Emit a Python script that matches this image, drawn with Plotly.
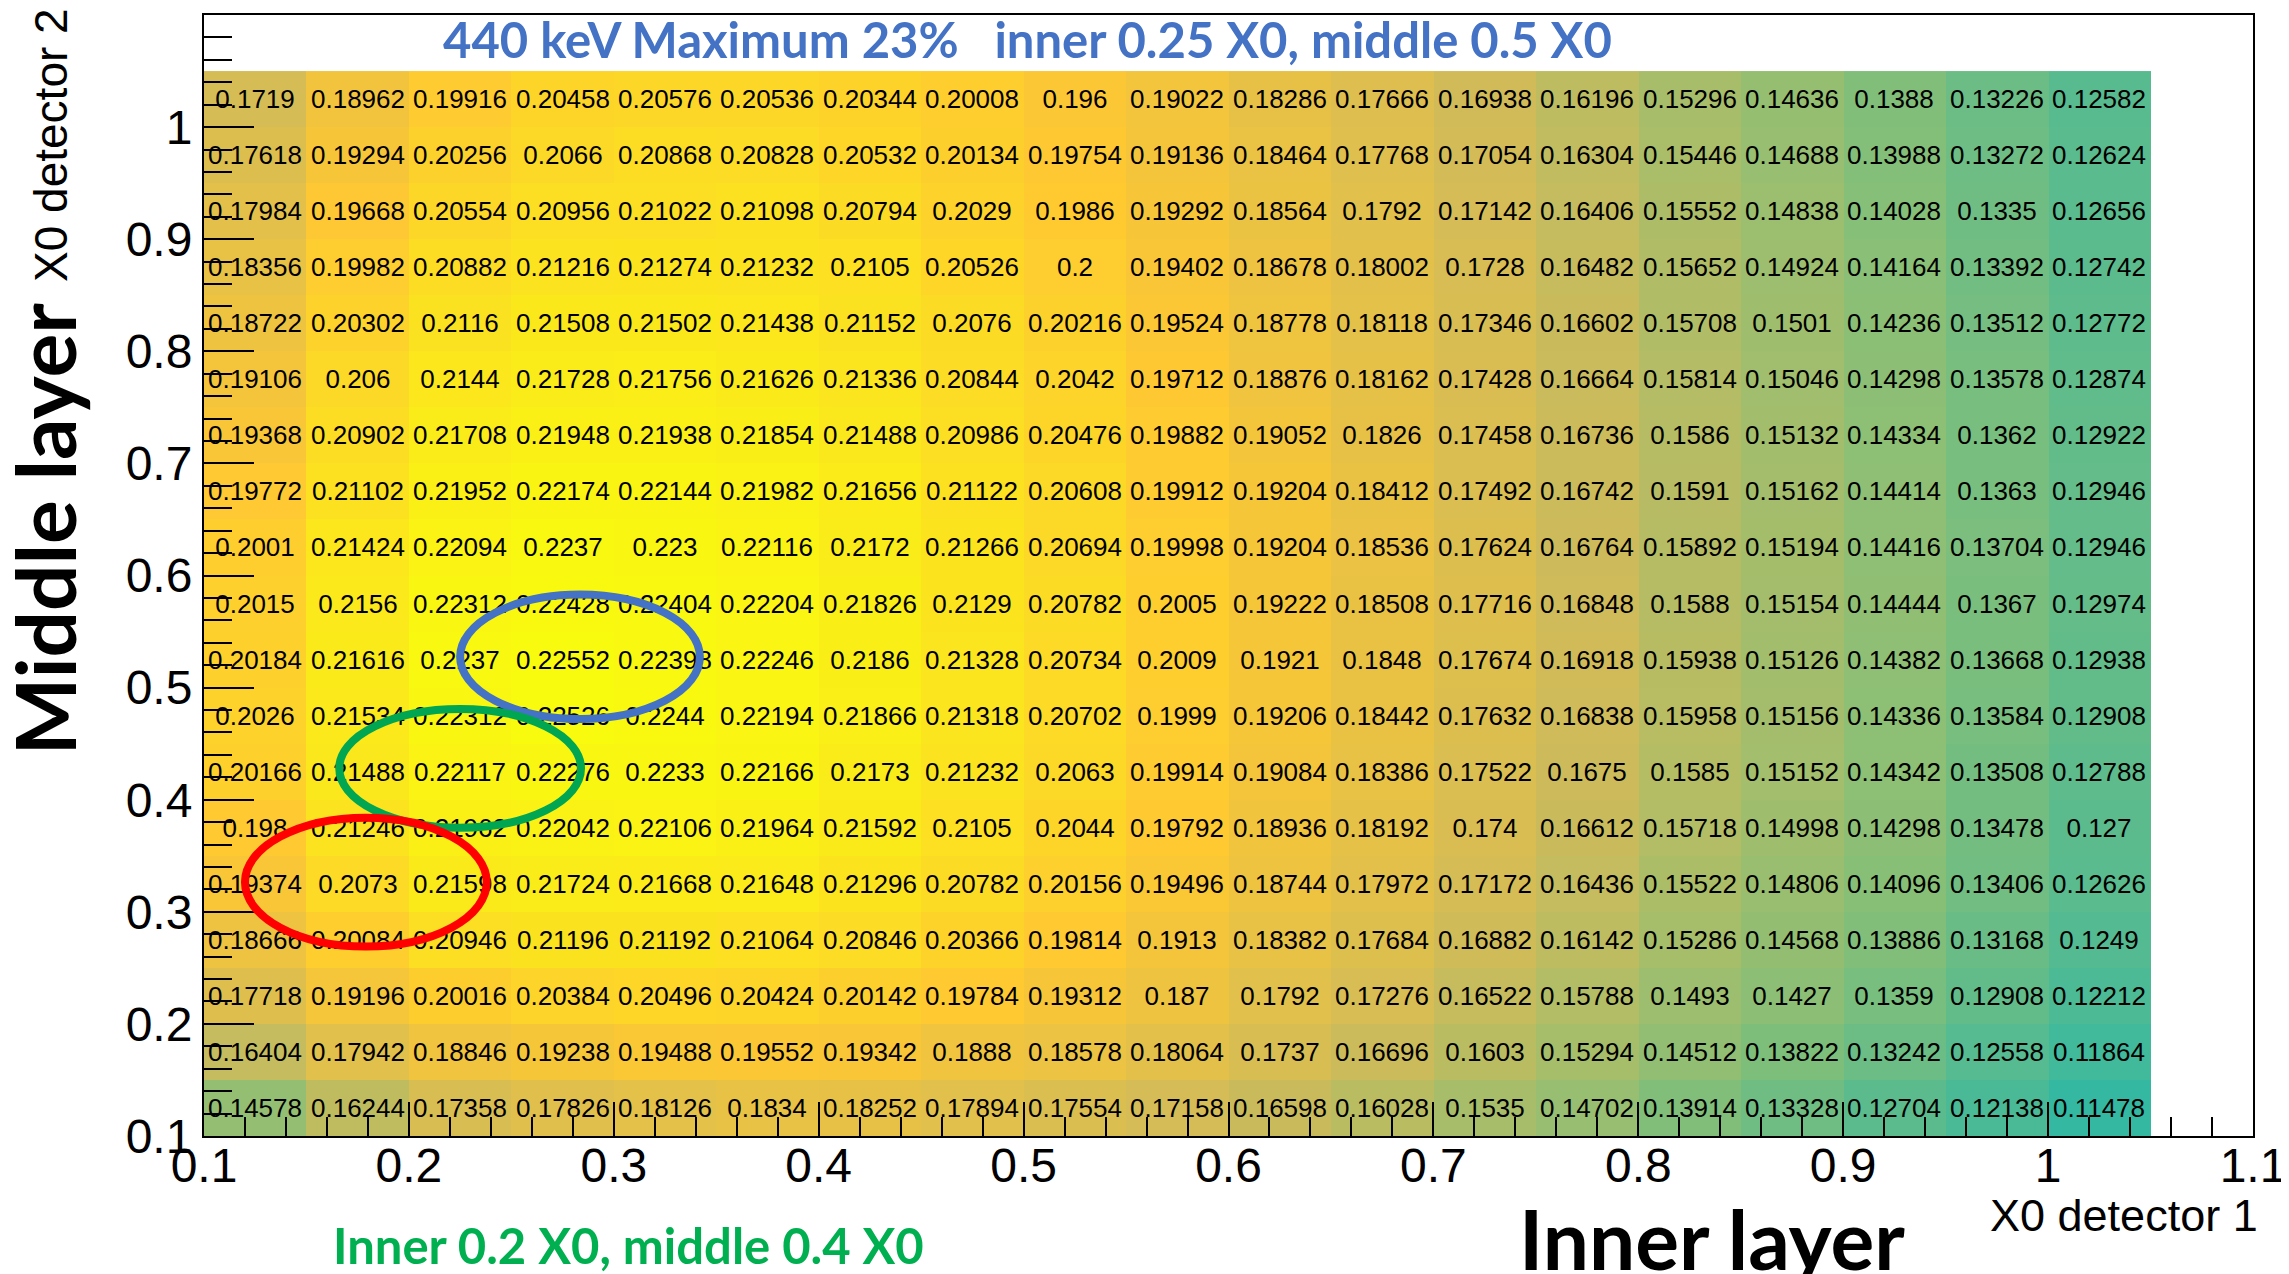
import plotly.graph_objects as go

# bin centres (X0 of inner detector 1, X0 of middle detector 2)
inner_x0 = [0.125, 0.175, 0.225, 0.275, 0.325, 0.375, 0.425, 0.475, 0.525, 0.575,
            0.625, 0.675, 0.725, 0.775, 0.825, 0.875, 0.925, 0.975, 1.025]
middle_x0 = [0.125, 0.175, 0.225, 0.275, 0.325, 0.375, 0.425, 0.475, 0.525, 0.575,
             0.625, 0.675, 0.725, 0.775, 0.825, 0.875, 0.925, 0.975, 1.025]

# 440 keV efficiency, one list per middle-layer bin (bottom to top)
eff_y0125 = [0.14578, 0.16244, 0.17358, 0.17826, 0.18126, 0.1834, 0.18252, 0.17894, 0.17554, 0.17158, 0.16598, 0.16028, 0.1535, 0.14702, 0.13914, 0.13328, 0.12704, 0.12138, 0.11478]
eff_y0175 = [0.16404, 0.17942, 0.18846, 0.19238, 0.19488, 0.19552, 0.19342, 0.1888, 0.18578, 0.18064, 0.1737, 0.16696, 0.1603, 0.15294, 0.14512, 0.13822, 0.13242, 0.12558, 0.11864]
eff_y0225 = [0.17718, 0.19196, 0.20016, 0.20384, 0.20496, 0.20424, 0.20142, 0.19784, 0.19312, 0.187, 0.1792, 0.17276, 0.16522, 0.15788, 0.1493, 0.1427, 0.1359, 0.12908, 0.12212]
eff_y0275 = [0.18666, 0.20084, 0.20946, 0.21196, 0.21192, 0.21064, 0.20846, 0.20366, 0.19814, 0.1913, 0.18382, 0.17684, 0.16882, 0.16142, 0.15286, 0.14568, 0.13886, 0.13168, 0.1249]
eff_y0325 = [0.19374, 0.2073, 0.21598, 0.21724, 0.21668, 0.21648, 0.21296, 0.20782, 0.20156, 0.19496, 0.18744, 0.17972, 0.17172, 0.16436, 0.15522, 0.14806, 0.14096, 0.13406, 0.12626]
eff_y0375 = [0.198, 0.21246, 0.21962, 0.22042, 0.22106, 0.21964, 0.21592, 0.2105, 0.2044, 0.19792, 0.18936, 0.18192, 0.174, 0.16612, 0.15718, 0.14998, 0.14298, 0.13478, 0.127]
eff_y0425 = [0.20166, 0.21488, 0.22117, 0.22276, 0.2233, 0.22166, 0.2173, 0.21232, 0.2063, 0.19914, 0.19084, 0.18386, 0.17522, 0.1675, 0.1585, 0.15152, 0.14342, 0.13508, 0.12788]
eff_y0475 = [0.2026, 0.21534, 0.22312, 0.22526, 0.2244, 0.22194, 0.21866, 0.21318, 0.20702, 0.1999, 0.19206, 0.18442, 0.17632, 0.16838, 0.15958, 0.15156, 0.14336, 0.13584, 0.12908]
eff_y0525 = [0.20184, 0.21616, 0.2237, 0.22552, 0.22398, 0.22246, 0.2186, 0.21328, 0.20734, 0.2009, 0.1921, 0.1848, 0.17674, 0.16918, 0.15938, 0.15126, 0.14382, 0.13668, 0.12938]
eff_y0575 = [0.2015, 0.2156, 0.22312, 0.22428, 0.22404, 0.22204, 0.21826, 0.2129, 0.20782, 0.2005, 0.19222, 0.18508, 0.17716, 0.16848, 0.1588, 0.15154, 0.14444, 0.1367, 0.12974]
eff_y0625 = [0.2001, 0.21424, 0.22094, 0.2237, 0.223, 0.22116, 0.2172, 0.21266, 0.20694, 0.19998, 0.19204, 0.18536, 0.17624, 0.16764, 0.15892, 0.15194, 0.14416, 0.13704, 0.12946]
eff_y0675 = [0.19772, 0.21102, 0.21952, 0.22174, 0.22144, 0.21982, 0.21656, 0.21122, 0.20608, 0.19912, 0.19204, 0.18412, 0.17492, 0.16742, 0.1591, 0.15162, 0.14414, 0.1363, 0.12946]
eff_y0725 = [0.19368, 0.20902, 0.21708, 0.21948, 0.21938, 0.21854, 0.21488, 0.20986, 0.20476, 0.19882, 0.19052, 0.1826, 0.17458, 0.16736, 0.1586, 0.15132, 0.14334, 0.1362, 0.12922]
eff_y0775 = [0.19106, 0.206, 0.2144, 0.21728, 0.21756, 0.21626, 0.21336, 0.20844, 0.2042, 0.19712, 0.18876, 0.18162, 0.17428, 0.16664, 0.15814, 0.15046, 0.14298, 0.13578, 0.12874]
eff_y0825 = [0.18722, 0.20302, 0.2116, 0.21508, 0.21502, 0.21438, 0.21152, 0.2076, 0.20216, 0.19524, 0.18778, 0.18118, 0.17346, 0.16602, 0.15708, 0.1501, 0.14236, 0.13512, 0.12772]
eff_y0875 = [0.18356, 0.19982, 0.20882, 0.21216, 0.21274, 0.21232, 0.2105, 0.20526, 0.2, 0.19402, 0.18678, 0.18002, 0.1728, 0.16482, 0.15652, 0.14924, 0.14164, 0.13392, 0.12742]
eff_y0925 = [0.17984, 0.19668, 0.20554, 0.20956, 0.21022, 0.21098, 0.20794, 0.2029, 0.1986, 0.19292, 0.18564, 0.1792, 0.17142, 0.16406, 0.15552, 0.14838, 0.14028, 0.1335, 0.12656]
eff_y0975 = [0.17618, 0.19294, 0.20256, 0.2066, 0.20868, 0.20828, 0.20532, 0.20134, 0.19754, 0.19136, 0.18464, 0.17768, 0.17054, 0.16304, 0.15446, 0.14688, 0.13988, 0.13272, 0.12624]
eff_y1025 = [0.1719, 0.18962, 0.19916, 0.20458, 0.20576, 0.20536, 0.20344, 0.20008, 0.196, 0.19022, 0.18286, 0.17666, 0.16938, 0.16196, 0.15296, 0.14636, 0.1388, 0.13226, 0.12582]

z = [eff_y0125, eff_y0175, eff_y0225, eff_y0275, eff_y0325, eff_y0375, eff_y0425,
     eff_y0475, eff_y0525, eff_y0575, eff_y0625, eff_y0675, eff_y0725, eff_y0775,
     eff_y0825, eff_y0875, eff_y0925, eff_y0975, eff_y1025]
labels = [[str(v) for v in row] for row in z]

# ROOT kBird palette
kbird = [
    [0.0, "rgb(53,42,135)"], [0.125, "rgb(15,92,221)"], [0.25, "rgb(20,129,214)"],
    [0.375, "rgb(6,164,202)"], [0.5, "rgb(46,183,164)"], [0.625, "rgb(135,191,119)"],
    [0.75, "rgb(209,187,89)"], [0.875, "rgb(254,200,50)"], [1.0, "rgb(249,251,14)"],
]

fig = go.Figure(go.Heatmap(
    x=inner_x0, y=middle_x0, z=z,
    text=labels, texttemplate="%{text}",
    textfont=dict(family="Liberation Sans, Arial", size=26, color="black"),
    colorscale=kbird, zmin=0, zmax=max(max(r) for r in z),
    showscale=False,
))

# highlighted configurations
fig.add_shape(type="circle", xref="x", yref="y", x0=0.225, x1=0.342, y0=0.472, y1=0.583,
              line=dict(color="#4472C4", width=8))
fig.add_shape(type="circle", xref="x", yref="y", x0=0.166, x1=0.284, y0=0.375, y1=0.481,
              line=dict(color="#00A651", width=8))
fig.add_shape(type="circle", xref="x", yref="y", x0=0.12, x1=0.238, y0=0.269, y1=0.384,
              line=dict(color="#FF0000", width=8))

axis_font = dict(family="Liberation Sans, Arial", size=48, color="black")
fig.update_xaxes(range=[0.1, 1.1], tick0=0.1, dtick=0.1, ticks="inside", ticklen=34,
                 tickwidth=1.5, tickcolor="black", showgrid=False, zeroline=False,
                 showline=True, linecolor="black", linewidth=2, mirror=True,
                 tickfont=axis_font, automargin=False, ticklabelstandoff=-14,
                 minor=dict(dtick=0.02, tick0=0.1, ticks="inside", ticklen=19,
                            tickcolor="black", tickwidth=1.5, showgrid=False))
fig.update_yaxes(range=[0.1, 1.1], tick0=0.1, dtick=0.1, ticks="inside", ticklen=50,
                 tickwidth=1.5, tickcolor="black", showgrid=False, zeroline=False,
                 showline=True, linecolor="black", linewidth=2, mirror=True,
                 tickfont=axis_font, automargin=False,
                 minor=dict(dtick=0.02, tick0=0.1, ticks="inside", ticklen=28,
                            tickcolor="black", tickwidth=1.5, showgrid=False))

bold = "Lato, Open Sans, sans-serif"
notes = [
    # text, x, y, angle, font
    ("440 keV Maximum 23%   inner 0.25 X0, middle 0.5 X0", 0.402, 0.9786, 0,
     dict(family=bold, size=49, color="#4472C4", weight="bold")),
    ("Inner 0.2 X0, middle 0.4 X0", 0.207, -0.097, 0,
     dict(family=bold, size=49, color="#00B050", weight="bold")),
    ("Inner layer", 0.736, -0.091, 0,
     dict(family=bold, size=82, color="black", weight="bold")),
    ("Middle layer", -0.078, 0.5415, -90,
     dict(family=bold, size=82, color="black", weight="bold")),
    ("X0 detector 2", -0.0747, 0.884, -90,
     dict(family="Liberation Sans, Arial", size=46, color="black")),
    ("X0 detector 1", 0.937, -0.0705, 0,
     dict(family="Liberation Sans, Arial", size=45, color="black")),
]
for text, x, y, angle, font in notes:
    fig.add_annotation(text=text, xref="paper", yref="paper", x=x, y=y,
                       xanchor="center", yanchor="middle", textangle=angle,
                       showarrow=False, font=font)

# page body adds an 8 px offset, margins compensate for it
fig.update_layout(
    width=2289, height=1274,
    margin=dict(l=196, r=44, t=7, b=146),
    paper_bgcolor="white", plot_bgcolor="white",
)

fig.write_html("out.html")
